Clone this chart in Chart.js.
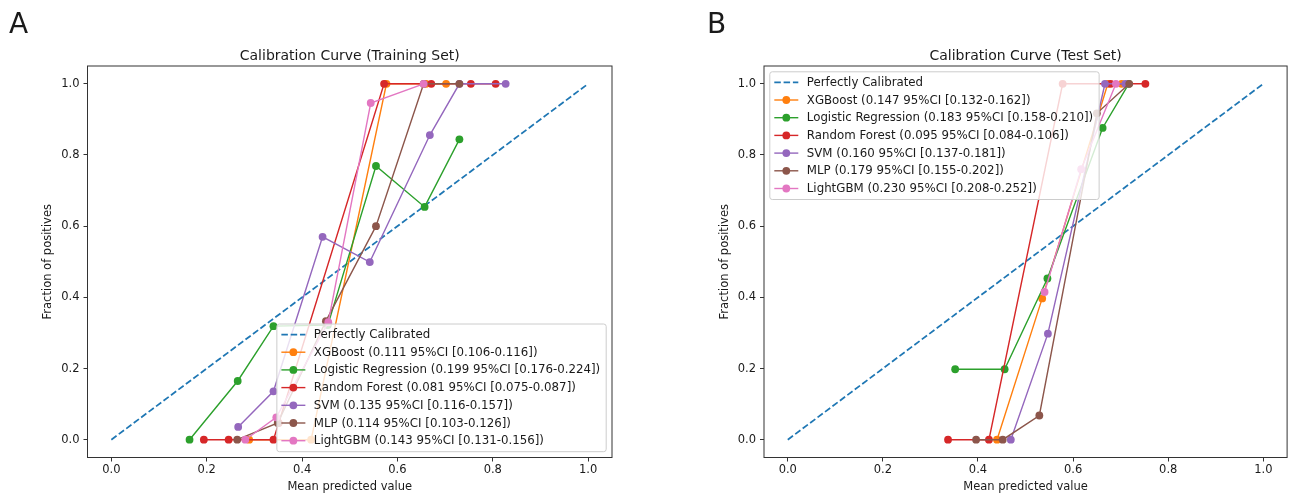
<!DOCTYPE html>
<html>
<head>
<meta charset="utf-8">
<script src="https://cdn.jsdelivr.net/npm/chart.js@4"></script>
<style>
  body { margin: 0; background: #fff; }
  canvas { position: absolute; top: 0; }
  #chartA { left: 0; }
  #chartB { left: 645px; }
</style>
</head>
<body>
<canvas id="chartA" width="645" height="498"></canvas>
<canvas id="chartB" width="646" height="498"></canvas>
<script>
// values
const TICKS = [0, 0.2, 0.4, 0.6, 0.8, 1.0];
const PERFECT = [[0, 0], [1, 1]];
const MODELS = ["XGBoost", "Logistic Regression", "Random Forest", "SVM", "MLP", "LightGBM"];

const trainScores = [
	"0.111 95%CI [0.106-0.116]",
	"0.199 95%CI [0.176-0.224]",
	"0.081 95%CI [0.075-0.087]",
	"0.135 95%CI [0.116-0.157]",
	"0.114 95%CI [0.103-0.126]",
	"0.143 95%CI [0.131-0.156]",
];
const testScores = [
	"0.147 95%CI [0.132-0.162]",
	"0.183 95%CI [0.158-0.210]",
	"0.095 95%CI [0.084-0.106]",
	"0.160 95%CI [0.137-0.181]",
	"0.179 95%CI [0.155-0.202]",
	"0.230 95%CI [0.208-0.252]",
];

// training set curves: [mean predicted value, fraction of positives]
const trainXgb = [[0.289, 0], [0.419, 0], [0.577, 1], [0.660, 1], [0.702, 1]];
const trainLr = [[0.164, 0], [0.265, 0.165], [0.340, 0.319], [0.454, 0.322], [0.555, 0.769], [0.657, 0.654], [0.730, 0.844]];
const trainRf = [[0.194, 0], [0.246, 0], [0.340, 0], [0.351, 0.047], [0.572, 1], [0.671, 1], [0.754, 1], [0.806, 1]];
const trainSvm = [[0.266, 0.036], [0.340, 0.136], [0.443, 0.570], [0.542, 0.499], [0.668, 0.856], [0.730, 1], [0.827, 1]];
const trainMlp = [[0.264, 0], [0.349, 0.047], [0.450, 0.333], [0.555, 0.600], [0.655, 1], [0.730, 1]];
const trainLgbm = [[0.281, 0], [0.346, 0.063], [0.455, 0.330], [0.544, 0.946], [0.655, 1]];

// test set curves
const testXgb = [[0.440, 0], [0.535, 0.397], [0.673, 1], [0.702, 1]];
const testLr = [[0.352, 0.198], [0.456, 0.198], [0.546, 0.453], [0.662, 0.876], [0.717, 1]];
const testRf = [[0.337, 0], [0.423, 0], [0.578, 1], [0.679, 1], [0.752, 1]];
const testSvm = [[0.469, 0], [0.547, 0.298], [0.667, 1], [0.710, 1]];
const testMlp = [[0.396, 0], [0.452, 0], [0.529, 0.068], [0.650, 0.917], [0.718, 1]];
const testLgbm = [[0.540, 0.415], [0.617, 0.760], [0.690, 1]];

const COLORS = ["#ff7f0e", "#2ca02c", "#d62728", "#9467bd", "#8c564b", "#e377c2"];
const BLUE = "#1f77b4";
const FONT = "'DejaVu Sans', sans-serif";
const TEXT = "#1a1a1a";

const toPoints = (pairs) => pairs.map(([x, y]) => ({ x, y }));

function makeDatasets(curves, scores) {
	const sets = [
		{
			label: "Perfectly Calibrated",
			data: toPoints(PERFECT),
			borderColor: BLUE,
			borderWidth: 1.75,
			borderDash: [6.5, 2.8],
			pointRadius: 0,
			showLine: true,
			order: 7,
		},
	];
	curves.forEach((curve, i) => {
		sets.push({
			label: `${MODELS[i]} (${scores[i]})`,
			data: toPoints(curve),
			borderColor: COLORS[i],
			backgroundColor: COLORS[i],
			borderWidth: 1.4,
			pointRadius: 3.9,
			pointBorderWidth: 0,
			pointHoverRadius: 3.9,
			showLine: true,
			order: 6 - i,
		});
	});
	return sets;
}

// frame, title, panel letter and legend drawn over the data like matplotlib does
const decorations = {
	id: "decorations",
	afterDatasetsDraw(chart, args, opts) {
		const ctx = chart.ctx;
		const a = chart.chartArea;
		ctx.save();

		ctx.strokeStyle = "#333";
		ctx.lineWidth = 1;
		ctx.strokeRect(a.left, a.top, a.right - a.left, a.bottom - a.top);

		ctx.fillStyle = TEXT;
		ctx.font = `14px ${FONT}`;
		ctx.textAlign = "center";
		ctx.textBaseline = "alphabetic";
		ctx.fillText(opts.title, (a.left + a.right) / 2, 59.5);

		ctx.font = `28px ${FONT}`;
		ctx.textAlign = "left";
		ctx.fillText(opts.letter, opts.letterX, 33);

		// legend
		const sets = chart.data.datasets;
		ctx.font = `11.8px ${FONT}`;
		const rowH = 17.7;
		const textW = Math.max(...sets.map((d) => ctx.measureText(d.label).width));
		const w = 37 + textW + 6;
		const h = 10 + rowH * (sets.length - 1) + 11.5;
		const pad = 5.8;
		let x0 = a.left + pad;
		let y0 = a.top + pad;
		if (opts.corner === "lr") {
			x0 = a.right - pad - w;
			y0 = a.bottom - pad - h;
		}
		ctx.beginPath();
		ctx.roundRect(x0, y0, w, h, 2.5);
		ctx.fillStyle = "rgba(255,255,255,0.8)";
		ctx.fill();
		ctx.strokeStyle = "#cccccc";
		ctx.lineWidth = 1;
		ctx.stroke();

		sets.forEach((d, i) => {
			const cy = y0 + 10.5 + i * rowH;
			ctx.beginPath();
			ctx.strokeStyle = d.borderColor;
			ctx.lineWidth = d.borderWidth;
			ctx.setLineDash(d.borderDash || []);
			ctx.moveTo(x0 + 4.5, cy);
			ctx.lineTo(x0 + 28.5, cy);
			ctx.stroke();
			ctx.setLineDash([]);
			if (d.pointRadius) {
				ctx.beginPath();
				ctx.fillStyle = d.backgroundColor;
				ctx.arc(x0 + 16.5, cy, d.pointRadius, 0, Math.PI * 2);
				ctx.fill();
			}
			ctx.fillStyle = TEXT;
			ctx.textAlign = "left";
			ctx.textBaseline = "middle";
			ctx.fillText(d.label, x0 + 37, cy + 0.5);
		});
		ctx.restore();
	},
};

function axisOptions(title, fitSize, isX) {
	return {
		type: "linear",
		min: -0.05,
		max: 1.05,
		afterBuildTicks: (scale) => {
			scale.ticks = TICKS.map((value) => ({ value }));
		},
		afterFit: (scale) => {
			if (isX) scale.height = fitSize;
			else scale.width = fitSize;
		},
		ticks: {
			callback: (v) => Number(v).toFixed(1),
			color: TEXT,
			font: { family: FONT, size: 11.5 },
			padding: isX ? 2 : 4,
			autoSkip: false,
			maxRotation: 0,
		},
		grid: {
			display: true,
			drawOnChartArea: false,
			drawTicks: true,
			tickLength: 4,
			color: "#333",
		},
		border: { display: false },
		title: {
			display: true,
			text: title,
			color: TEXT,
			font: { family: FONT, size: 11.5 },
			padding: { top: 4, bottom: 4 },
		},
	};
}

function makeChart(canvasId, curves, scores, opts) {
	return new Chart(document.getElementById(canvasId), {
		type: "scatter",
		data: { datasets: makeDatasets(curves, scores) },
		options: {
			responsive: false,
			animation: false,
			devicePixelRatio: 1,
			layout: { padding: { left: opts.padLeft, right: opts.padRight, top: 66, bottom: 0 } },
			scales: {
				x: axisOptions("Mean predicted value", 40.5, true),
				y: axisOptions("Fraction of positives", opts.yWidth, false),
			},
			plugins: {
				legend: { display: false },
				title: { display: false },
				tooltip: { enabled: false },
				decorations: opts.deco,
			},
		},
		plugins: [decorations],
	});
}

makeChart("chartA", [trainXgb, trainLr, trainRf, trainSvm, trainMlp, trainLgbm], trainScores, {
	padLeft: 37,
	padRight: 33,
	yWidth: 50.5,
	deco: { title: "Calibration Curve (Training Set)", letter: "A", letterX: 9, corner: "lr" },
});

makeChart("chartB", [testXgb, testLr, testRf, testSvm, testMlp, testLgbm], testScores, {
	padLeft: 69,
	padRight: 2,
	yWidth: 50,
	deco: { title: "Calibration Curve (Test Set)", letter: "B", letterX: 62, corner: "ul" },
});
</script>
</body>
</html>
